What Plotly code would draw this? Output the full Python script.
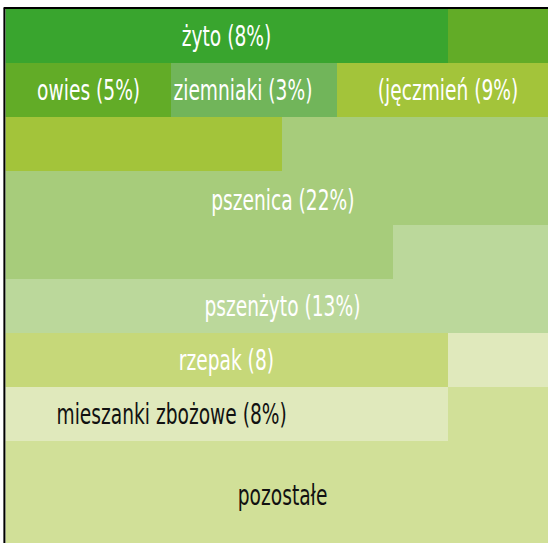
import plotly.graph_objects as go

# ---- data ----
categories = ["żyto", "owies", "ziemniaki", "jęczmień", "pszenica",
              "pszenżyto", "rzepak", "mieszanki zbożowe", "pozostałe"]
cells = [8, 5, 3, 9, 22, 13, 8, 10, 22]
colors = ["#39a52e", "#62ac27", "#71b55a", "#a3c43a", "#a7cc7b",
          "#bbd89b", "#c6d879", "#e0e9bc", "#d1e098"]
label_texts = ["żyto (8%)", "owies (5%)", "ziemniaki (3%)", "(jęczmień (9%)",
               "pszenica (22%)", "pszenżyto (13%)", "rzepak (8)",
               "mieszanki zbożowe (8%)", "pozostałe"]

NCOL = 10
# build waffle grid row-major
flat = []
for i, n in enumerate(cells):
    flat += [i] * n
grid = [flat[r * NCOL:(r + 1) * NCOL] for r in range(len(flat) // NCOL)]
hover = [[categories[v] for v in row] for row in grid]

n = len(categories)
cs = []
for i, c in enumerate(colors):
    cs.append([i / n, c])
    cs.append([(i + 1) / n, c])

fig = go.Figure(go.Heatmap(
    z=grid, x=list(range(NCOL)), y=list(range(len(grid))),
    text=hover, hoverinfo="text",
    colorscale=cs, zmin=-0.5, zmax=n - 0.5, showscale=False,
))

# label anchor positions (column, row) per category
label_pos = [(3.5, 0), (1.0, 1), (3.8, 1), (7.5, 1), (4.52, 3.04),
             (4.5, 5), (3.5, 6), (2.51, 7), (4.5, 8.5)]
label_colors = ["white", "white", "white", "white", "white",
                "white", "white", "#111111", "#111111"]
FONT = "DejaVu Sans Condensed, DejaVu Sans, sans-serif"
for t, (x, y), fc in zip(label_texts, label_pos, label_colors):
    fig.add_annotation(x=x, y=y, text=t, showarrow=False,
                       font=dict(family=FONT, size=28, color=fc),
                       xanchor="center", yanchor="middle")

# frame (left and top)
fig.add_shape(type="line", xref="x", yref="y", x0=-0.52, x1=-0.52, y0=-0.53, y1=10,
              line=dict(color="black", width=2))
fig.add_shape(type="line", xref="x", yref="y", x0=-0.53, x1=10, y0=-0.52, y1=-0.52,
              line=dict(color="black", width=2))

cw = 55.3
ch = 54.0
fig.update_layout(
    width=548, height=543,
    margin=dict(l=0, r=0, t=0, b=0),
    paper_bgcolor="white", plot_bgcolor="white",
    xaxis=dict(range=[-0.5 - 5.5 / cw, -0.5 + 542.5 / cw], visible=False, fixedrange=True),
    yaxis=dict(range=[-0.5 + 534 / ch, -0.5 - 9 / ch], visible=False, fixedrange=True),
    showlegend=False,
)

post = """
var s = document.createElement('style');
s.textContent = 'html,body{margin:0;padding:0;overflow:hidden;} ' +
  '.annotation-text{transform-box:fill-box;transform-origin:center;transform:scaleX(0.74);}';
document.head.appendChild(s);
Plotly.relayout('{plot_id}', {});
"""

fig.write_html("out.html", post_script=post, config={"displayModeBar": False})
